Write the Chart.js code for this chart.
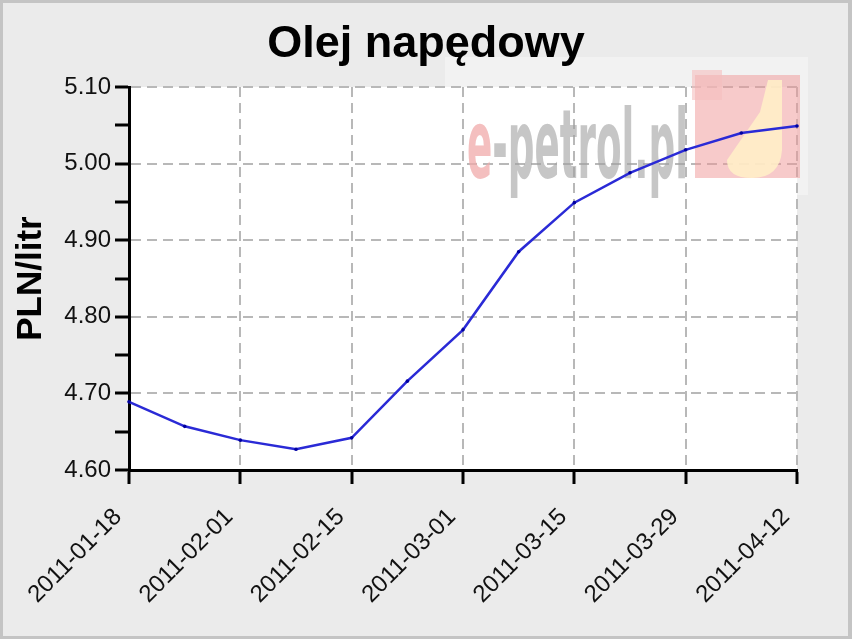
<!DOCTYPE html>
<html>
<head>
<meta charset="utf-8">
<script src="https://cdn.jsdelivr.net/npm/chart.js@4/dist/chart.umd.min.js"></script>
<style>
  body { margin: 0; background: #ebebeb; }
  #wrap { width: 852px; height: 639px; }
</style>
</head>
<body>
<div id="wrap"><canvas id="olej" width="852" height="639"></canvas></div>
<script>
// data
const dates = ['2011-01-18', '2011-01-25', '2011-02-01', '2011-02-08', '2011-02-15', '2011-02-22', '2011-03-01',
               '2011-03-08', '2011-03-15', '2011-03-22', '2011-03-29', '2011-04-05', '2011-04-12'];
const prices = [4.689, 4.657, 4.639, 4.627, 4.642, 4.716, 4.783, 4.885, 4.949, 4.988, 5.018, 5.040, 5.049];
const yTicks = [4.60, 4.70, 4.80, 4.90, 5.00, 5.10];

const FONT = '"Liberation Sans", Arial, sans-serif';

// frame + white plot area
const background = {
  id: 'background',
  beforeDraw(chart) {
    const c = chart.ctx, a = chart.chartArea;
    c.save();
    c.fillStyle = '#c4c4c4';
    c.fillRect(0, 0, chart.width, chart.height);
    c.fillStyle = '#ebebeb';
    c.fillRect(3, 3, chart.width - 7, chart.height - 6);
    c.fillStyle = '#f2f2f2';
    c.fillRect(445, 57, 363, 138);
    c.fillStyle = '#ffffff';
    c.fillRect(a.left, a.top, a.right - a.left, a.bottom - a.top);
    c.restore();
  }
};

// e-petrol.pl watermark
const watermark = {
  id: 'watermark',
  beforeDatasetsDraw(chart) {
    const c = chart.ctx;
    c.save();
    // logo
    c.fillStyle = 'rgba(240,150,150,0.5)';
    c.fillRect(695, 75, 105, 103);
    c.fillStyle = 'rgba(245,190,190,0.6)';
    c.fillRect(692, 70, 30, 30);
    c.fillStyle = 'rgba(255,238,200,0.9)';
    c.beginPath();
    c.moveTo(727, 160);
    c.lineTo(760, 112);
    c.lineTo(768, 80);
    c.lineTo(782, 80);
    c.lineTo(782, 150);
    c.quadraticCurveTo(780, 178, 752, 178);
    c.quadraticCurveTo(727, 178, 727, 160);
    c.fill();
    // text
    c.font = 'bold 30px "DejaVu Sans Condensed", "DejaVu Sans", sans-serif';
    c.textBaseline = 'alphabetic';
    const w = c.measureText('e-petrol.pl').width;
    const we = c.measureText('e').width;
    c.translate(467, 178);
    c.scale(221 / w, 3.2);
    c.fillStyle = 'rgba(240,170,170,0.75)';
    c.fillText('e', 0, 0);
    c.fillStyle = 'rgba(160,160,160,0.6)';
    c.fillText('-petrol.pl', we, 0);
    c.restore();
  }
};

new Chart(document.getElementById('olej'), {
  type: 'line',
  data: {
    labels: dates,
    datasets: [{
      data: prices,
      borderColor: '#2a2ad6',
      borderWidth: 2.5,
      tension: 0,
      pointRadius: 1.8,
      pointBackgroundColor: '#0000a0',
      pointBorderWidth: 0
    }]
  },
  options: {
    responsive: false,
    animation: false,
    layout: { padding: 0 },
    plugins: {
      legend: { display: false },
      tooltip: { enabled: false },
      title: {
        display: true,
        text: 'Olej napędowy',
        color: '#000',
        font: { family: FONT, size: 45, weight: 'bold' },
        padding: { top: 18, bottom: 15 }
      }
    },
    scales: {
      x: {
        afterFit(s) { s.height = 169; },
        grid: {
          color: ctx => ctx.index % 2 ? 'rgba(0,0,0,0)' : '#b8b8b8',
          lineWidth: 2,
          tickColor: ctx => ctx.index % 2 ? 'rgba(0,0,0,0)' : '#000',
          tickWidth: 3,
          tickLength: 14,
          tickBorderDash: []
        },
        border: { color: '#000', width: 3, dash: [10, 6] },
        ticks: {
          autoSkip: false,
          maxRotation: 45,
          minRotation: 45,
          color: '#111',
          padding: 19,
          labelOffset: -11,
          font: { family: FONT, size: 24 },
          callback(v, i) { return i % 2 ? '' : dates[i]; }
        }
      },
      y: {
        min: yTicks[0],
        max: yTicks[yTicks.length - 1],
        afterFit(s) { s.width = 129; },
        grid: {
          color: ctx => ctx.index % 2 ? 'rgba(0,0,0,0)' : '#b8b8b8',
          lineWidth: 2,
          tickColor: '#000',
          tickWidth: 3,
          tickLength: 14,
          tickBorderDash: []
        },
        border: { color: '#000', width: 3, dash: [10, 6] },
        ticks: {
          stepSize: 0.05,
          color: '#111',
          padding: 4,
          font: { family: FONT, size: 24 },
          callback(v, i) { return i % 2 ? '' : v.toFixed(2); }
        },
        title: {
          display: true,
          text: 'PLN/litr',
          color: '#000',
          font: { family: FONT, size: 35, weight: 'bold' },
          padding: { top: 10, bottom: 0 }
        }
      },
      // empty right strip so the title stays centred on the whole picture
      gap: {
        position: 'right',
        afterFit(s) { s.width = 55; },
        grid: { display: false },
        border: { display: false },
        ticks: { display: false }
      }
    }
  },
  plugins: [background, watermark]
});
</script>
</body>
</html>
